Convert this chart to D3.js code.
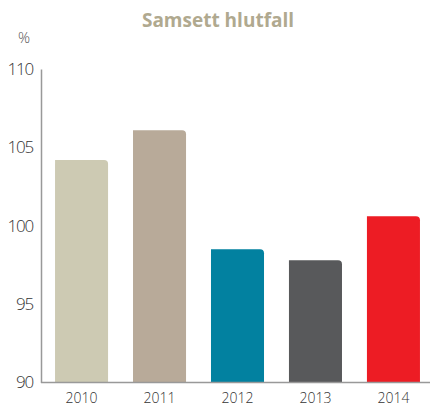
<!DOCTYPE html>
<html>
<head>
<meta charset="utf-8">
<script src="https://cdn.jsdelivr.net/npm/d3@7"></script>
<style>
  body { margin: 0; background: #fff; }
  text { font-family: "Open Sans", sans-serif; }
</style>
</head>
<body>
<div id="chart"></div>
<script>
const years = ['2010', '2011', '2012', '2013', '2014']
const values = [104.2, 106.1, 98.5, 97.8, 100.6]
const colors = ['#cdcab3', '#b8aa99', '#0281a0', '#58595b', '#ed1c24']
const yTicks = [90, 95, 100, 105, 110]

const width = 430, height = 409
const tickFont = 'Roboto, sans-serif'

const svg = d3.select('#chart').append('svg')
  .attr('width', width)
  .attr('height', height)

const x = d3.scaleBand().domain(years).range([41, 434])
  .paddingInner(0.32).paddingOuter(0.18)
const y = d3.scaleLinear().domain([90, 110]).range([382.5, 69])

// title
svg.append('text')
  .attr('x', 218).attr('y', 27)
  .attr('text-anchor', 'middle')
  .attr('font-size', 19).attr('font-weight', 700)
  .attr('fill', '#b0a98f')
  .text('Samsett hlutfall')

svg.append('text')
  .attr('x', 24).attr('y', 43)
  .attr('text-anchor', 'middle')
  .attr('font-family', tickFont)
  .attr('font-size', 15).attr('font-weight', 300)
  .attr('fill', '#555')
  .text('%')

// bars, rounded top-right corner only
const r = 4
svg.append('g').selectAll('path')
  .data(years)
  .join('path')
  .attr('fill', (d, i) => colors[i])
  .attr('d', (d, i) => {
    const x0 = x(d), x1 = x(d) + x.bandwidth()
    const y0 = y(values[i]), y1 = y(90)
    return 'M' + x0 + ',' + y1 + 'V' + y0 + 'H' + (x1 - r) +
      'Q' + x1 + ',' + y0 + ' ' + x1 + ',' + (y0 + r) + 'V' + y1 + 'Z'
  })

// y axis
const yAxis = svg.append('g')
  .attr('transform', 'translate(41,0)')
  .call(d3.axisLeft(y).tickValues(yTicks).tickSize(0).tickPadding(8))
yAxis.select('.domain').attr('stroke', '#999').attr('stroke-width', 1.5)
yAxis.selectAll('text')
  .attr('font-size', 17).attr('font-weight', 300).attr('fill', '#333')
  .attr('letter-spacing', -1.2)
  .attr('font-family', tickFont)

// x axis
const xAxis = svg.append('g')
  .attr('transform', 'translate(0,' + y(90) + ')')
  .call(d3.axisBottom(x).tickSize(0).tickPadding(11))
xAxis.select('.domain').remove()
xAxis.selectAll('text')
  .attr('font-size', 14).attr('font-weight', 300).attr('fill', '#333')
  .attr('font-family', tickFont)
svg.append('line')
  .attr('x1', 41).attr('x2', 430)
  .attr('y1', y(90)).attr('y2', y(90))
  .attr('stroke', '#999').attr('stroke-width', 1.5)
</script>
</body>
</html>
